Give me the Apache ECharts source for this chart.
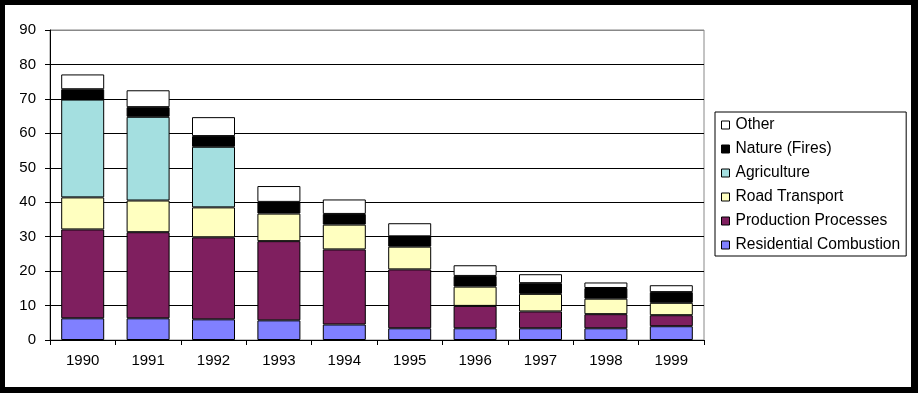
<!DOCTYPE html>
<html>
<head>
<meta charset="utf-8">
<script src="https://cdn.jsdelivr.net/npm/echarts@6/dist/echarts.min.js"></script>
<style>
html,body{margin:0;padding:0;background:#000;width:918px;height:393px;overflow:hidden;}
#chart{position:absolute;left:5px;top:5px;width:906px;height:382px;background:#fff;}
</style>
</head>
<body>
<div id="chart"></div>
<script>
const years = ['1990','1991','1992','1993','1994','1995','1996','1997','1998','1999'];
const residential = [6.3, 6.3, 6.0, 5.7, 4.5, 3.4, 3.4, 3.4, 3.4, 4.0];
const production  = [25.8, 25.0, 23.8, 23.0, 21.8, 17.1, 6.5, 4.9, 4.1, 3.2];
const road        = [9.3, 9.2, 8.7, 8.0, 7.2, 6.6, 5.6, 5.1, 4.5, 3.6];
const agriculture = [28.4, 24.3, 17.6, null, null, null, null, null, null, null];
const nature      = [3.0, 2.8, 3.1, 3.4, 3.1, 3.0, 3.1, 3.1, 3.1, 3.1];
const other       = [4.3, 4.9, 5.5, 4.6, 4.2, 3.8, 3.1, 2.6, 1.6, 2.0];
const yTicks = [0,10,20,30,40,50,60,70,80,90];

const seriesDefs = [
  ['Residential Combustion', residential, '#8080ff'],
  ['Production Processes', production, '#7f1f5f'],
  ['Road Transport', road, '#ffffc0'],
  ['Agriculture', agriculture, '#a4dfe0'],
  ['Nature (Fires)', nature, '#000000'],
  ['Other', other, '#ffffff']
];

const chart = echarts.init(document.getElementById('chart'), null, {renderer:'canvas'});
const font = 'Liberation Sans, Arial, sans-serif';
chart.setOption({
  animation: false,
  textStyle: {fontFamily: font},
  grid: {left: 45, top: 25, width: 654, height: 310, show: true, borderColor: '#888', borderWidth: 1, backgroundColor: 'transparent'},
  legend: {
    orient: 'vertical',
    left: 710, top: 107,
    data: ['Other','Nature (Fires)','Agriculture','Road Transport','Production Processes','Residential Combustion'],
    icon: 'rect',
    itemWidth: 8, itemHeight: 8, itemGap: 8,
    padding: [5, 6, 3, 6],
    borderColor: '#000', borderWidth: 1,
    itemStyle: {borderColor: '#000', borderWidth: 1},
    textStyle: {fontSize: 15.6, color: '#000', fontFamily: font, lineHeight: 16, padding: [0,0,0,1]}
  },
  xAxis: {
    type: 'category', data: years,
    axisLine: {lineStyle: {color: '#000', width: 1}},
    axisTick: {show: true, length: 5, lineStyle: {color: '#000'}},
    axisLabel: {color: '#000', fontSize: 15, margin: 13, fontFamily: font},
    splitLine: {show: false}
  },
  yAxis: {
    type: 'value', min: 0, max: 90, interval: 10,
    axisLine: {show: true, lineStyle: {color: '#000', width: 1}},
    axisTick: {show: true, length: 5, lineStyle: {color: '#000'}},
    axisLabel: {color: '#000', fontSize: 15, margin: 14, fontFamily: font,
      formatter: v => yTicks.includes(v) ? String(v) : ''},
    splitLine: {show: true, lineStyle: {color: ['#000','#000','#000','#000','#000','#000','#000','#000','#000','#888'], width: 1}}
  },
  series: seriesDefs.map(([name, data, color]) => ({
    name, type: 'bar', stack: 'total', data,
    barWidth: 43,
    itemStyle: {color, borderColor: '#000', borderWidth: 1}
  }))
});
</script>
</body>
</html>
